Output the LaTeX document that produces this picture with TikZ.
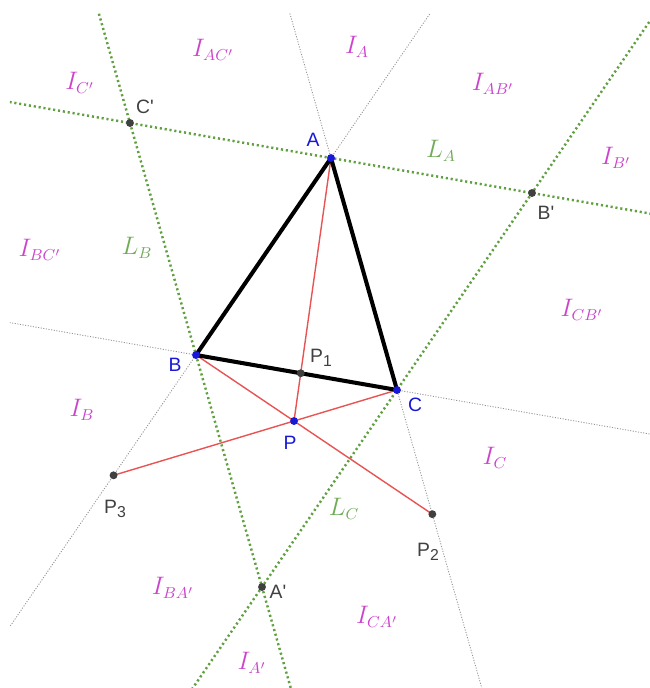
\documentclass[tikz,border=0pt]{standalone}
\usepackage{fontspec}
\setsansfont{Liberation Sans}
\usetikzlibrary{calc}
\definecolor{dmGreen}{RGB}{96,160,64}
\definecolor{dmGreenText}{RGB}{112,172,88}
\definecolor{dmMagenta}{RGB}{204,68,204}
\definecolor{dmBlue}{RGB}{24,24,214}
\definecolor{dmRed}{RGB}{232,84,84}
\definecolor{dmDark}{RGB}{64,64,64}
\newcommand{\dmSub}[1]{{\fontsize{9}{10}\selectfont\raisebox{-0.45ex}{#1}}}
\begin{document}
\begin{tikzpicture}
\tikzset{
    dmLineL/.style={draw=dmGreen,line width=1.4pt,dash pattern=on 1.2pt off 1.6pt},
    dmLineSide/.style={draw=gray!85,line width=0.5pt,dash pattern=on 0.6pt off 0.9pt},
    dmCevian/.style={draw=dmRed,line width=0.8pt},
    dmTri/.style={draw=black,line width=2.3pt,line join=round},
    dmDotV/.style={circle,fill=dmBlue,inner sep=0pt,minimum size=4.5pt},
    dmDotP/.style={circle,fill=dmDark,inner sep=0pt,minimum size=4.5pt},
    dmVLabel/.style={text=dmBlue,inner sep=0pt,font=\sffamily\fontsize{11}{13}\selectfont},
    dmPLabel/.style={text=dmDark,inner sep=0pt,font=\sffamily\fontsize{11}{13}\selectfont},
    dmRegion/.style={text=dmMagenta,inner sep=0pt,font=\fontsize{13.5}{16}\selectfont},
    dmLLabel/.style={text=dmGreenText,inner sep=0pt,font=\fontsize{13.5}{16}\selectfont},
}
\useasboundingbox (0,0) rectangle (13,-13.76);

\coordinate (A) at (6.62,-3.16);
\coordinate (B) at (3.92,-7.10);
\coordinate (C) at (7.94,-7.80);
\coordinate (P) at (5.88,-8.42);
\coordinate (P1) at (intersection of A--P and B--C);
\coordinate (P2) at (intersection of B--P and A--C);
\coordinate (P3) at (intersection of C--P and A--B);
\coordinate (Ap) at ($(B)+(C)-(A)$);
\coordinate (Bp) at ($(A)+(C)-(B)$);
\coordinate (Cp) at ($(A)+(B)-(C)$);

\begin{scope}
\clip (0.2,-0.26) rectangle (13,-13.76);
\draw[dmLineSide] ($(A)!-2!(B)$) -- ($(A)!3!(B)$);
\draw[dmLineSide] ($(B)!-2!(C)$) -- ($(B)!3!(C)$);
\draw[dmLineSide] ($(A)!-2!(C)$) -- ($(A)!3!(C)$);
\draw[dmLineL] ($(Cp)!-2!(Bp)$) -- ($(Cp)!3!(Bp)$);
\draw[dmLineL] ($(Cp)!-2!(Ap)$) -- ($(Cp)!3!(Ap)$);
\draw[dmLineL] ($(Bp)!-2!(Ap)$) -- ($(Bp)!3!(Ap)$);
\end{scope}

\draw[dmCevian] (A) -- (P);
\draw[dmCevian] (B) -- (P2);
\draw[dmCevian] (C) -- (P3);
\draw[dmTri] (A) -- (B) -- (C) -- cycle;

\node[dmDotV] (dotA) at (A) {};
\node[dmDotV] (dotB) at (B) {};
\node[dmDotV] (dotC) at (C) {};
\node[dmDotV] (dotP) at (P) {};
\node[dmDotP] (dotP1) at (P1) {};
\node[dmDotP] (dotP2) at (P2) {};
\node[dmDotP] (dotP3) at (P3) {};
\node[dmDotP] (dotAp) at (Ap) {};
\node[dmDotP] (dotBp) at (Bp) {};
\node[dmDotP] (dotCp) at (Cp) {};

\node[dmVLabel] (labA) at (6.26,-2.80) {A};
\node[dmVLabel] (labB) at (3.50,-7.30) {B};
\node[dmVLabel] (labC) at (8.30,-8.10) {C};
\node[dmVLabel] (labP) at (5.80,-8.86) {P};
\node[dmPLabel] (labP1) at (6.42,-7.16) {P\dmSub{1}};
\node[dmPLabel] (labP2) at (8.56,-11.04) {P\dmSub{2}};
\node[dmPLabel] (labP3) at (2.30,-10.18) {P\dmSub{3}};
\node[dmPLabel] (labAp) at (5.56,-11.84) {A\textquotesingle};
\node[dmPLabel] (labBp) at (10.92,-4.26) {B\textquotesingle};
\node[dmPLabel] (labCp) at (2.90,-2.14) {C\textquotesingle};

\node[dmRegion] (regAC) at (4.26,-1.00) {$I_{AC'}$};
\node[dmRegion] (regA) at (7.14,-0.94) {$I_{A}$};
\node[dmRegion] (regC1) at (1.60,-1.66) {$I_{C'}$};
\node[dmRegion] (regAB) at (9.86,-1.68) {$I_{AB'}$};
\node[dmRegion] (regB1) at (12.32,-3.16) {$I_{B'}$};
\node[dmRegion] (regBC) at (0.80,-5.00) {$I_{BC'}$};
\node[dmRegion] (regCB) at (11.64,-6.20) {$I_{CB'}$};
\node[dmRegion] (regB) at (1.64,-8.20) {$I_{B}$};
\node[dmRegion] (regC) at (9.90,-9.16) {$I_{C}$};
\node[dmRegion] (regBA) at (3.46,-11.76) {$I_{BA'}$};
\node[dmRegion] (regCA) at (7.54,-12.34) {$I_{CA'}$};
\node[dmRegion] (regA1) at (5.04,-13.26) {$I_{A'}$};

\node[dmLLabel] (labLA) at (8.82,-3.02) {$L_{A}$};
\node[dmLLabel] (labLB) at (2.74,-4.96) {$L_{B}$};
\node[dmLLabel] (labLC) at (6.88,-10.18) {$L_{C}$};
\end{tikzpicture}
\end{document}
